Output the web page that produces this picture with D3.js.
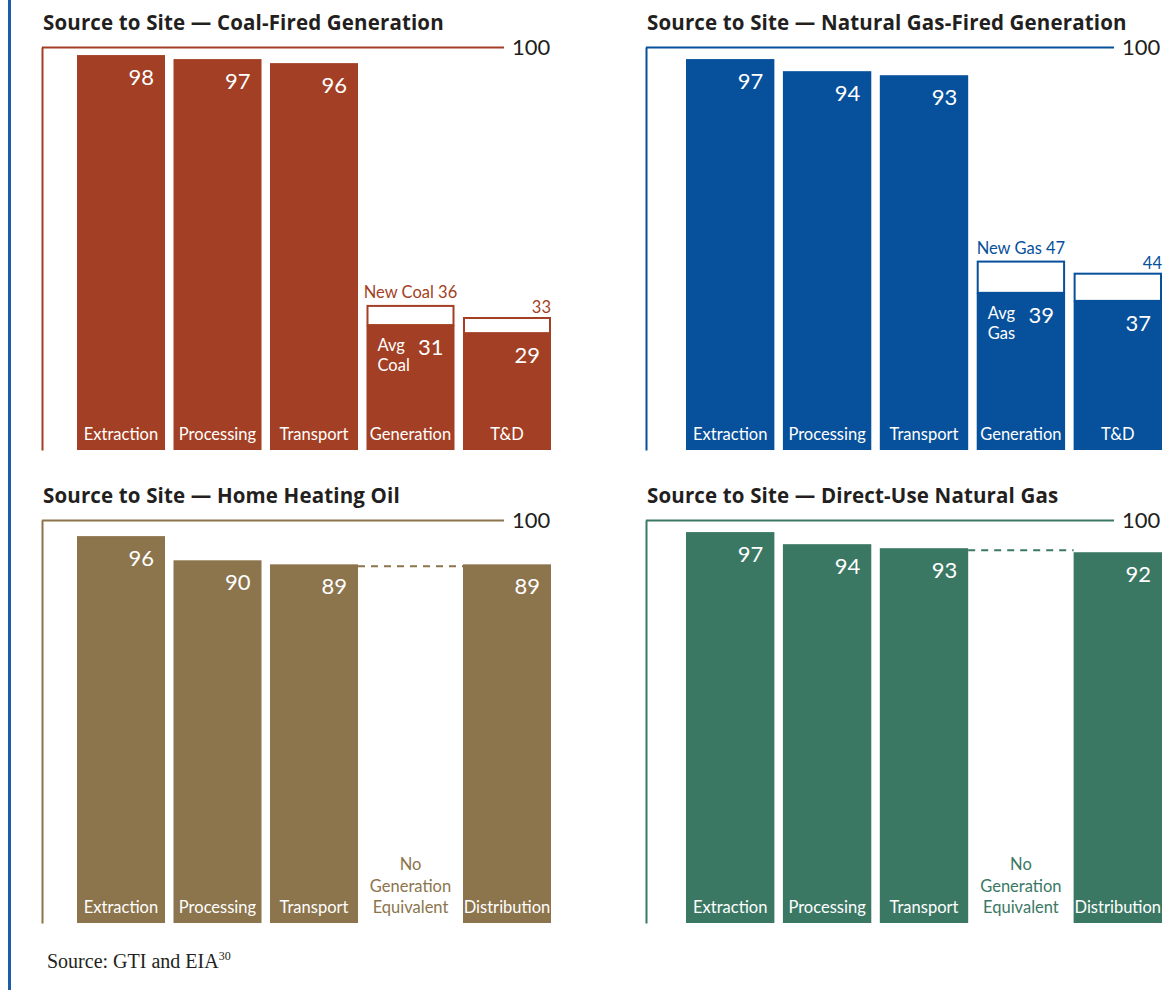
<!DOCTYPE html>
<html>
<head>
<meta charset="utf-8">
<script src="https://cdn.jsdelivr.net/npm/d3@7"></script>
<style>
  html, body { margin: 0; padding: 0; background: #ffffff; }
  svg { display: block; }
</style>
</head>
<body>
<div id="chart"></div>
<script>
// ---------- DATA ----------
const axisTicks = [100];

const coalCategories = ["Extraction", "Processing", "Transport", "Generation", "T&D"];
const coalValues = [98, 97, 96, 31, 29];
const coalUpper = [null, null, null, 36, 33];
const coalUpperLabels = [null, null, null, "New Coal 36", "33"];
const coalInnerLabels = [null, null, null, ["Avg", "Coal"], null];

const gasCategories = ["Extraction", "Processing", "Transport", "Generation", "T&D"];
const gasValues = [97, 94, 93, 39, 37];
const gasUpper = [null, null, null, 47, 44];
const gasUpperLabels = [null, null, null, "New Gas 47", "44"];
const gasInnerLabels = [null, null, null, ["Avg", "Gas"], null];

const oilCategories = ["Extraction", "Processing", "Transport", "No Generation Equivalent", "Distribution"];
const oilValues = [96, 90, 89, null, 89];

const directCategories = ["Extraction", "Processing", "Transport", "No Generation Equivalent", "Distribution"];
const directValues = [97, 94, 93, null, 92];

const titles = [
  "Source to Site — Coal-Fired Generation",
  "Source to Site — Natural Gas-Fired Generation",
  "Source to Site — Home Heating Oil",
  "Source to Site — Direct-Use Natural Gas"
];

// ---------- LAYOUT ----------
const W = 1168, H = 990;
const SANS = "Lato, 'Open Sans', sans-serif";
const svg = d3.select("#chart").append("svg").attr("width", W).attr("height", H)
  .style("font-family", SANS);

svg.append("line")
  .attr("x1", 9.5).attr("x2", 9.5).attr("y1", 0).attr("y2", H)
  .attr("stroke", "#1d5ca6").attr("stroke-width", 3);

const panels = [
  { title: titles[0], color: "#a33f24", axisX: 42, lineEnd: 504, top: 47, bottom: 450, titleY: 30,
    band: [77, 551], cats: coalCategories, values: coalValues, upper: coalUpper, upperLabels: coalUpperLabels, inner: coalInnerLabels },
  { title: titles[1], color: "#07509b", axisX: 646, lineEnd: 1114, top: 47, bottom: 450, titleY: 30,
    band: [686, 1162], cats: gasCategories, values: gasValues, upper: gasUpper, upperLabels: gasUpperLabels, inner: gasInnerLabels },
  { title: titles[2], color: "#8c744c", axisX: 42, lineEnd: 504, top: 520, bottom: 923, titleY: 503,
    band: [77, 551], cats: oilCategories, values: oilValues },
  { title: titles[3], color: "#3a7864", axisX: 646, lineEnd: 1114, top: 520, bottom: 923, titleY: 503,
    band: [686, 1162], cats: directCategories, values: directValues }
];

panels.forEach(p => {
  const g = svg.append("g");
  const y = d3.scaleLinear().domain([0, 100]).range([p.bottom, p.top]);
  const x = d3.scaleBand().domain(d3.range(p.cats.length)).range(p.band).paddingInner(0.088).paddingOuter(0);
  const bw = x.bandwidth();

  // title
  g.append("text").attr("x", p.axisX + 1).attr("y", p.titleY)
    .style("font-family", "'Open Sans', 'Noto Sans', sans-serif")
    .attr("font-size", 20.5).attr("font-weight", 700).attr("fill", "#231f20")
    .attr("letter-spacing", 0.15)
    .text(p.title);

  // top reference line with "100" label
  const topAxis = d3.axisRight(y).tickValues(axisTicks).tickSize(-(p.lineEnd - p.axisX)).tickPadding(8).tickSizeOuter(0);
  const ta = g.append("g").attr("transform", `translate(${p.lineEnd},0)`).call(topAxis);
  ta.select(".domain").remove();
  ta.selectAll(".tick line").attr("stroke", p.color).attr("stroke-width", 2);
  ta.selectAll(".tick text").attr("font-size", 22).attr("fill", "#231f20")
    .attr("font-family", SANS).attr("dy", "0.34em");

  // left axis line
  const leftAxis = d3.axisLeft(y).tickValues([]).tickSizeOuter(0);
  const la = g.append("g").attr("transform", `translate(${p.axisX},0)`).call(leftAxis);
  la.select(".domain").attr("stroke", p.color).attr("stroke-width", 2);

  p.values.forEach((v, i) => {
    const bx = x(i);
    const cx = bx + bw / 2;
    if (v === null) {
      // dashed continuation line at previous bar's level
      const prev = p.values[i - 1];
      g.append("line")
        .attr("x1", x(i - 1) + bw).attr("x2", x(i + 1))
        .attr("y1", y(prev) + 2).attr("y2", y(prev) + 2)
        .attr("stroke", p.color).attr("stroke-width", 2).attr("stroke-dasharray", "7,6");
      const words = ["No", "Generation", "Equivalent"];
      const offs = [-53, -31.5, -10];
      words.forEach((w, k) => {
        g.append("text").attr("x", cx).attr("y", p.bottom + offs[k])
          .attr("text-anchor", "middle").attr("font-size", 16.5).attr("fill", p.color).text(w);
      });
      return;
    }
    g.append("rect").attr("x", bx).attr("y", y(v)).attr("width", bw).attr("height", p.bottom - y(v))
      .attr("fill", p.color);

    if (p.upper && p.upper[i] !== null) {
      const u = p.upper[i];
      g.append("rect").attr("x", bx + 1).attr("y", y(u) + 1).attr("width", bw - 2)
        .attr("height", y(v) - y(u) - 1)
        .attr("fill", "#ffffff").attr("stroke", p.color).attr("stroke-width", 2);
      const lab = p.upperLabels[i];
      const centered = lab.indexOf(" ") >= 0;
      g.append("text")
        .attr("x", centered ? cx : bx + bw)
        .attr("y", y(u) - (centered ? 7 : 4))
        .attr("text-anchor", centered ? "middle" : "end")
        .attr("font-size", 16.5).attr("fill", p.color).text(lab);
    }
    if (p.inner && p.inner[i]) {
      p.inner[i].forEach((w, k) => {
        g.append("text").attr("x", bx + 11).attr("y", y(v) + 26 + k * 20)
          .attr("font-size", 16.5).attr("fill", "#ffffff").text(w);
      });
    }
    // value label
    g.append("text").attr("x", bx + bw - 11).attr("y", y(v) + 30)
      .attr("text-anchor", "end").attr("font-size", 22).attr("fill", "#ffffff").text(v);
    // category label
    g.append("text").attr("x", cx).attr("y", p.bottom - 10)
      .attr("text-anchor", "middle").attr("font-size", 16.5).attr("fill", "#ffffff").text(p.cats[i]);
  });
});

// source note
const src = svg.append("text").attr("x", 47).attr("y", 968)
  .style("font-family", "'Liberation Serif', 'DejaVu Serif', serif")
  .attr("font-size", 20).attr("fill", "#231f20");
src.append("tspan").text("Source: GTI and EIA");
src.append("tspan").attr("font-size", 12).attr("dy", -8).text("30");
</script>
</body>
</html>
